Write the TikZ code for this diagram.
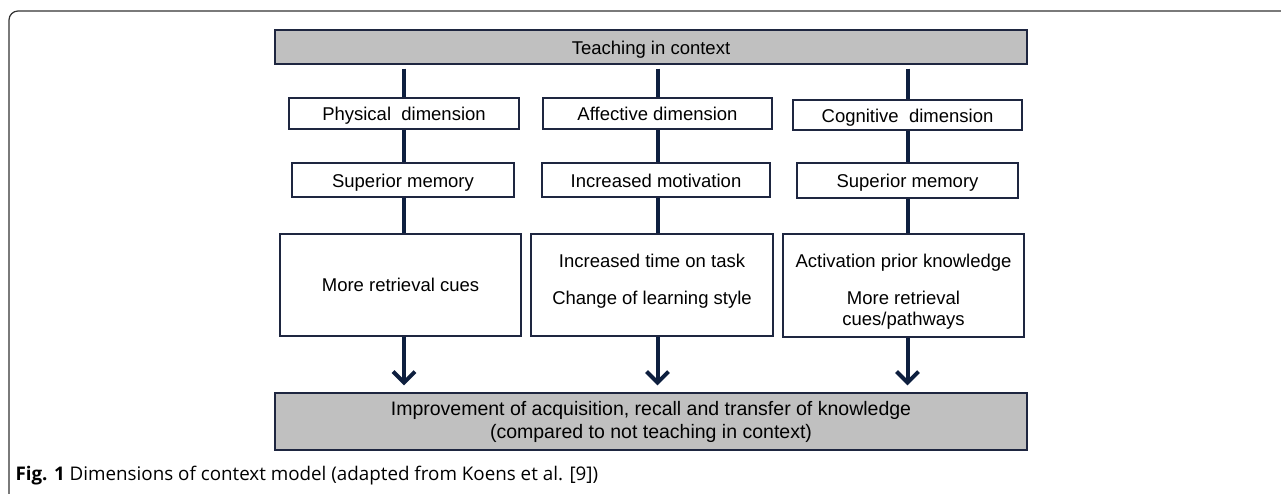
\documentclass[tikz,border=0pt]{standalone}
\usepackage{fontspec}
\setmainfont{Liberation Sans}
\newfontfamily\capfont{Open Sans}
\usetikzlibrary{arrows.meta}
\definecolor{boxgray}{HTML}{C0C0C0}
\definecolor{boxline}{HTML}{1E2640}
\definecolor{linknavy}{HTML}{0E1F3F}

\begin{document}
\begin{tikzpicture}[x=1pt,y=-1pt]
\tikzstyle{box}=[rectangle,align=center,draw=boxline,line width=1.2pt,fill=white,inner sep=0pt,font=\fontsize{18.5}{21}\selectfont]
\tikzstyle{oneline}=[text height=19pt,text depth=4pt]
\tikzstyle{greybox}=[box,fill=boxgray]
\tikzstyle{link}=[draw=linknavy,line width=4pt]
\tikzstyle{arr}=[link,-{Straight Barb[length=11pt,width=22pt]}]
\useasboundingbox (0,0) rectangle (1281,494);
\draw[line width=1.2pt,black!80,rounded corners=9pt] (9,494) -- (9,11) -- (1281,11);
\node[greybox,oneline,minimum width=752pt,minimum height=34pt] at(651, 47) (teach) {Teaching in context};
\node[box,oneline,minimum width=230pt,minimum height=31pt] at(404, 113.5) (phys) {Physical~ dimension};
\node[box,oneline,minimum width=229pt,minimum height=31pt] at(657.5, 113.5) (aff) {Affective dimension};
\node[box,oneline,minimum width=229pt,minimum height=30pt] at(907.5, 115) (cog) {Cognitive~ dimension};
\node[box,oneline,minimum width=222pt,minimum height=34pt] at(403, 180) (mem1) {Superior memory};
\node[box,oneline,minimum width=228pt,minimum height=34pt] at(656, 180) (motiv) {Increased motivation};
\node[box,oneline,minimum width=221pt,minimum height=35pt] at(907.5, 180.5) (mem2) {Superior memory};
\node[box,minimum width=241pt,minimum height=102pt] at(400.5, 285) (cues) {More retrieval cues};
\node[box,minimum width=242pt,minimum height=102pt,text depth=12pt] at(652, 285) (time) {Increased time on task\\[16pt]
                         Change of learning style};
\node[box,minimum width=241pt,minimum height=103pt] at(903.5, 285.5) (prior) {\mbox{}\\[5pt]
                         Activation prior knowledge\\[16pt]
                         More retrieval\\
                         cues/pathways};
\node[greybox,minimum width=752pt,minimum height=57pt,font=\fontsize{19.5}{23}\selectfont] at(651, 421.5) (result) {Improvement of acquisition, recall and transfer of knowledge\\
                         (compared to not teaching in context)};
\node[anchor=west,font=\capfont\fontsize{18.8}{22}\selectfont] at(12, 476) (caption) {\textbf{Fig. 1} Dimensions of context model (adapted from Koens et al. [9])};
\draw[link,shorten <=4pt] (teach.south -| phys.north) -- (phys.north);
\draw[link,shorten <=4pt] (teach.south -| aff.north) -- (aff.north);
\draw[link,shorten <=4pt] (teach.south -| cog.north) -- (cog.north);
\draw[link] (phys.south) -- (phys.south |- mem1.north);
\draw[link] (aff.south) -- (aff.south |- motiv.north);
\draw[link] (cog.south) -- (cog.south |- mem2.north);
\draw[link] (mem1.south -| phys) -- (cues.north -| phys);
\draw[link] (motiv.south -| aff) -- (time.north -| aff);
\draw[link] (mem2.south -| cog) -- (prior.north -| cog);
\draw[arr,shorten >=7pt] (cues.south -| phys) -- (result.north -| phys);
\draw[arr,shorten >=7pt] (time.south -| aff) -- (result.north -| aff);
\draw[arr,shorten >=7pt] (prior.south -| cog) -- (result.north -| cog);
\end{tikzpicture}
\end{document}
